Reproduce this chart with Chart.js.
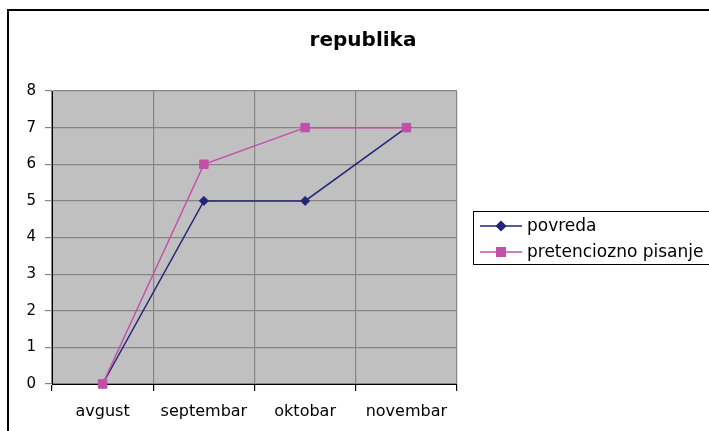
<!DOCTYPE html>
<html>
<head>
<meta charset="utf-8">
<script src="https://cdn.jsdelivr.net/npm/chart.js@4/dist/chart.umd.min.js"></script>
<style>
  html, body { margin: 0; padding: 0; background: #fff; }
  #wrap { width: 709px; height: 431px; }
</style>
</head>
<body>
<div id="wrap"><canvas id="lineChart" width="709" height="431"></canvas></div>
<script>
var months = ["avgust", "septembar", "oktobar", "novembar"];
var povreda = [0, 5, 5, 7];
var pretenciozno = [0, 6, 7, 7];
var seriesNames = ["povreda", "pretenciozno pisanje"];
var chartTitle = "republika";

var navy = "#24247a";
var pink = "#c44fa8";
var fontFamily = "'DejaVu Sans', Arial, sans-serif";

// gray plot background, outer frame, title and legend box
var frame = {
  id: "frame",
  beforeDraw: function (chart) {
    var ctx = chart.ctx, a = chart.chartArea;
    ctx.save();
    ctx.fillStyle = "#c0c0c0";
    ctx.fillRect(a.left, a.top, a.right - a.left, a.bottom - a.top);
    ctx.restore();
  },
  afterDraw: function (chart) {
    var ctx = chart.ctx;
    ctx.save();
    ctx.strokeStyle = "#000";
    ctx.lineWidth = 2;
    ctx.strokeRect(8, 10, 800, 600);

    ctx.fillStyle = "#000";
    ctx.font = "bold 20px " + fontFamily;
    ctx.textAlign = "center";
    ctx.textBaseline = "alphabetic";
    ctx.fillText(chartTitle, 363, 46);

    // legend
    ctx.lineWidth = 1;
    ctx.strokeRect(473.5, 211.5, 300, 53);
    var rows = [
      { y: 226, color: navy, style: "rectRot", r: 4.5 },
      { y: 252, color: pink, style: "rect", r: 6 }
    ];
    ctx.font = "17px " + fontFamily;
    ctx.textAlign = "left";
    ctx.textBaseline = "middle";
    rows.forEach(function (row, i) {
      ctx.strokeStyle = row.color;
      ctx.lineWidth = 1.5;
      ctx.beginPath();
      ctx.moveTo(480, row.y);
      ctx.lineTo(522, row.y);
      ctx.stroke();
      ctx.fillStyle = row.color;
      Chart.helpers.drawPoint(ctx, { pointStyle: row.style, radius: row.r, borderWidth: 1 }, 501, row.y);
      ctx.fill();
      ctx.fillStyle = "#000";
      ctx.fillText(seriesNames[i], 527, row.y + 1);
    });
    ctx.restore();
  }
};

var ctx = document.getElementById("lineChart").getContext("2d");
var lineChart = new Chart(ctx, {
  type: "line",
  data: {
    labels: months,
    datasets: [
      {
        label: seriesNames[0],
        data: povreda,
        borderColor: navy,
        backgroundColor: navy,
        borderWidth: 1.5,
        pointStyle: "rectRot",
        pointRadius: 4.5,
        pointBorderWidth: 1,
        tension: 0,
        order: 1,
        clip: false
      },
      {
        label: seriesNames[1],
        data: pretenciozno,
        borderColor: pink,
        backgroundColor: pink,
        borderWidth: 1.5,
        pointStyle: "rect",
        pointRadius: 6,
        pointBorderWidth: 1,
        tension: 0,
        order: 0,
        clip: false
      }
    ]
  },
  options: {
    responsive: false,
    animation: false,
    devicePixelRatio: 1,
    layout: { padding: { top: 91, right: 252, left: 0, bottom: 0 } },
    plugins: {
      legend: { display: false },
      title: { display: false },
      tooltip: { enabled: false }
    },
    scales: {
      x: {
        offset: true,
        grid: { offset: true, color: "#858585", tickColor: "#000", tickLength: 7, lineWidth: 1.2 },
        border: { color: "#000", width: 1 },
        ticks: { color: "#000", padding: 11, font: { family: fontFamily, size: 16 }, maxRotation: 0 },
        afterFit: function (scale) { scale.height = 47; }
      },
      y: {
        min: 0,
        max: 8,
        ticks: { stepSize: 1, color: "#000", padding: 9, font: { family: fontFamily, size: 15 } },
        grid: { color: "#858585", tickColor: "#858585", tickLength: 7, lineWidth: 1.2 },
        border: { color: "#000", width: 1 },
        afterFit: function (scale) { scale.width = 52; }
      }
    }
  },
  plugins: [frame]
});
</script>
</body>
</html>
